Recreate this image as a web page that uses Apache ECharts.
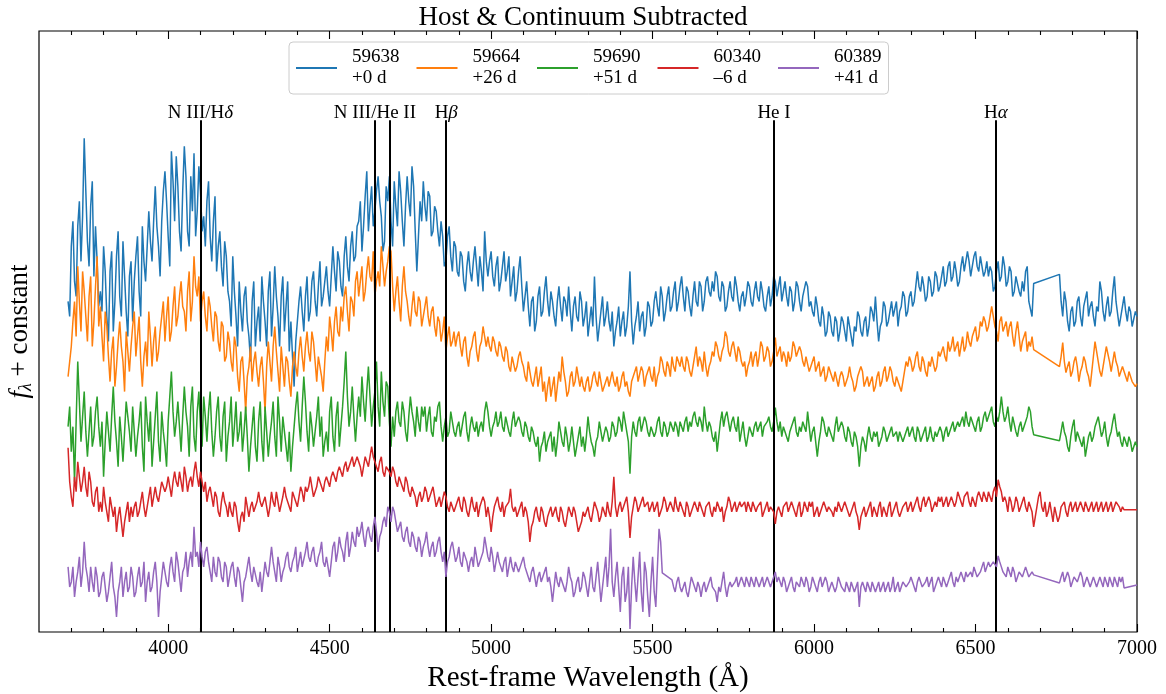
<!DOCTYPE html>
<html>
<head>
<meta charset="utf-8">
<title>Host & Continuum Subtracted</title>
<script src="https://cdn.jsdelivr.net/npm/echarts@6/dist/echarts.min.js"></script>
<style>
  html, body { margin: 0; padding: 0; background: #fff; }
  #chart { width: 1166px; height: 694px; }
</style>
</head>
<body>
<div id="chart"></div>
<script>
// Rest-frame wavelength grid (Å) shared by every spectrum
const WAVE_START = 3690;
const WAVE_STEP = 5;
const WAVE_COUNT = 663;

// Epochs (MJD) and phases shown in the legend
const epochs = ['59638', '59664', '59690', '60340', '60389'];
const phases = ['+0 d', '+26 d', '+51 d', '\u20136 d', '+41 d'];
const colors = ['#1f77b4', '#ff7f0e', '#2ca02c', '#d62728', '#9467bd'];

// Host- and continuum-subtracted flux, offset for display (null = no data).
// One row per 100 Å, starting at 3690 Å.
const flux59638 = [
  33.0, 31.5, 38.5, 41.0, 35.0, 33.5, 40.5, 43.0, 37.0, 41.5, 49.3, 44.0, 39.0, 36.5, 42.5, 45.0, 35.5, 40.5, 37.0, 32.5,
  34.0, 32.0, 38.5, 36.0, 31.5, 29.0, 36.0, 38.0, 30.0, 33.0, 37.5, 40.0, 33.5, 31.5, 39.0, 35.5, 32.0, 29.5, 35.5, 37.0,
  31.0, 35.0, 37.5, 39.5, 34.0, 31.5, 40.5, 37.0, 35.0, 38.5, 42.0, 39.0, 37.0, 41.0, 44.5, 40.5, 38.5, 35.5, 41.0, 44.0,
  46.0, 43.0, 39.5, 36.5, 48.0, 45.0, 41.0, 47.5, 44.5, 40.0, 38.0, 44.0, 48.5, 45.5, 40.0, 38.5, 45.5, 42.0, 47.8, 39.5,
  42.0, 46.5, 44.0, 40.0, 41.5, 38.5, 43.0, 45.0, 39.5, 37.0, 41.0, 43.5, 36.0, 38.5, 40.0, 36.5, 34.5, 39.0, 37.5, 34.0,
  33.0, 30.5, 37.5, 34.0, 31.5, 28.5, 35.0, 32.0, 30.0, 33.5, 34.5, 31.0, 29.5, 27.0, 33.0, 35.0, 28.5, 31.0, 32.5, 29.0,
  35.5, 33.0, 31.0, 28.5, 34.0, 36.0, 29.5, 32.5, 36.5, 33.5, 31.5, 28.5, 33.5, 35.5, 30.0, 32.5, 35.0, 28.0, 31.0, 27.5,
  24.5, 29.0, 31.0, 33.0, 34.5, 32.0, 30.0, 33.5, 35.5, 31.0, 32.0, 35.0, 36.0, 33.0, 31.5, 34.5, 37.0, 32.5, 33.5, 35.0,
  36.5, 34.0, 32.5, 35.5, 38.5, 36.0, 34.0, 38.0, 37.0, 34.5, 33.5, 37.5, 39.5, 36.5, 35.0, 38.5, 40.0, 37.0, 37.5, 40.5,
  41.0, 43.0, 38.0, 40.5, 43.5, 46.0, 40.0, 42.5, 44.5, 40.5, 42.0, 44.0, 45.5, 43.0, 41.5, 38.0, 39.0, 44.5, 43.0, 45.5,
  41.0, 38.5, 45.0, 42.5, 40.5, 46.0, 44.0, 41.0, 38.5, 42.5, 45.5, 43.0, 41.5, 46.5, 44.5, 40.0, 36.0, 39.5, 43.0, 41.0,
  45.0, 42.5, 41.0, 44.0, 43.5, 39.5, 40.0, 42.5, 42.0, 40.0, 38.5, 41.0, 39.5, 36.5, 37.0, 39.5, 40.5, 37.5, 36.0, 39.0,
  38.5, 36.0, 35.5, 38.0, 37.5, 35.0, 34.0, 36.5, 38.0, 36.0, 35.0, 37.0, 38.5, 36.5, 34.5, 37.5, 36.0, 34.0, 40.0, 37.0,
  35.5, 37.0, 38.0, 35.5, 34.5, 36.5, 37.5, 34.0, 35.0, 36.5, 38.0, 35.0, 36.0, 37.5, 33.5, 35.0, 36.5, 33.0, 34.0, 36.0,
  37.5, 34.5, 32.0, 33.5, 35.0, 32.5, 30.5, 33.0, 33.5, 30.0, 31.0, 33.5, 34.5, 31.5, 32.0, 34.0, 35.5, 33.0, 31.5, 34.0,
  33.0, 31.5, 30.5, 33.0, 34.5, 32.5, 31.0, 33.5, 33.0, 31.5, 34.5, 32.0, 30.0, 32.5, 33.5, 31.5, 31.0, 34.0, 33.0, 30.5,
  31.5, 33.0, 29.5, 31.0, 32.5, 30.5, 35.5, 31.5, 29.0, 30.5, 32.0, 33.5, 30.5, 31.5, 33.0, 31.0, 30.0, 32.0, 28.5, 30.0,
  31.0, 32.5, 29.5, 31.0, 32.0, 29.5, 30.5, 32.5, 36.0, 31.0, 28.7, 30.5, 31.5, 33.0, 30.0, 31.5, 32.0, 29.5, 30.5, 33.0,
  32.5, 30.5, 31.0, 33.0, 34.0, 32.5, 31.5, 34.5, 33.5, 31.0, 32.0, 33.5, 34.5, 32.0, 32.5, 34.0, 35.0, 32.0, 33.0, 34.5,
  35.5, 33.5, 32.0, 34.5, 34.0, 32.5, 31.5, 33.5, 35.0, 33.0, 32.5, 35.0, 34.5, 32.0, 33.0, 35.0, 35.5, 34.0, 33.5, 35.0,
  34.0, 36.0, 35.5, 33.5, 33.0, 35.0, 34.5, 32.0, 32.5, 34.0, 35.0, 33.5, 33.0, 35.5, 34.5, 33.0, 32.0, 33.5, 34.0, 32.5,
  33.5, 35.0, 34.5, 33.0, 32.5, 34.0, 35.0, 33.5, 33.0, 35.0, 34.0, 32.5, 32.0, 33.5, 34.5, 32.5, 33.5, 35.5, 35.0, 33.5,
  34.5, 35.5, 33.0, 34.0, 35.0, 33.5, 32.5, 34.5, 34.0, 32.0, 33.0, 35.0, 34.5, 33.0, 32.0, 33.5, 33.5, 35.0, 34.5, 32.5,
  33.0, 32.0, 31.5, 33.5, 32.5, 31.0, 30.5, 32.5, 31.5, 29.5, 30.0, 32.0, 31.5, 30.0, 29.5, 31.5, 31.0, 29.0, 30.0, 31.5,
  31.0, 30.0, 29.0, 31.5, 30.5, 29.5, 28.5, 30.5, 30.0, 32.0, 31.5, 30.0, 29.5, 31.0, 31.5, 29.5, 30.5, 32.5, 32.0, 31.0,
  33.5, 31.0, 29.0, 30.5, 31.0, 33.0, 32.5, 30.5, 31.0, 32.0, 33.0, 31.5, 31.5, 33.0, 30.5, 32.0, 32.5, 34.0, 33.5, 31.5,
  32.0, 33.5, 34.0, 32.5, 33.0, 34.5, 36.0, 34.5, 34.0, 35.5, 34.5, 33.0, 33.5, 35.5, 35.0, 33.5, 34.0, 36.0, 35.5, 34.0,
  34.5, 35.5, 36.5, 34.5, 35.0, 36.5, 37.0, 35.0, 35.5, 37.0, 36.0, 34.5, 35.0, 36.5, 37.5, 36.0, 36.0, 38.0, 37.0, 35.5,
  36.5, 37.5, 38.0, 36.5, 36.0, 37.5, 37.5, 35.5, 36.0, 37.0, 35.5, 36.5, 36.0, 34.0, 34.5, 36.0, 37.0, 35.0, 35.5, 37.5,
  36.5, 34.5, 35.0, 36.5, 36.0, 33.5, 34.0, 35.5, 35.5, 34.0, 33.5, 35.0, 34.0, 36.0, 36.5, 33.0, 33.0, 31.5, 34.8, null,
  null, null, null, null, null, null, null, null, null, null, null, null, null, null,
  35.7, 33.0, 31.5, 34.0, 33.0, 31.0, 30.0, 32.0, 32.5, 30.5, 31.0, 33.0, 33.5, 31.5, 30.5, 32.5, 32.5, 34.0, 31.5, 32.5,
  33.0, 31.5, 30.5, 32.5, 32.0, 35.0, 34.0, 32.0, 31.0, 32.5, 33.5, 31.5, 32.0, 34.0, 35.5, 33.0, 33.0, 30.5, 31.5, 32.5,
  33.5, 32.0, 31.0, 32.5, 32.0, 30.5, 30.5, 32.0, 31.5
];

const flux59664 = [
  25.5, 27.0, 28.5, 31.0, 33.0, 29.5, 36.5, 33.0, 30.0, 36.0, 34.0, 31.5, 29.0, 33.5, 35.5, 28.5, 31.0, 34.5, 37.5, 30.5,
  32.5, 29.5, 27.0, 32.0, 30.5, 27.5, 25.0, 28.0, 29.5, 24.5, 26.5, 29.0, 31.0, 28.5, 27.0, 24.0, 30.0, 28.0, 26.0, 28.5,
  30.5, 32.0, 27.5, 29.5, 31.5, 27.0, 24.5, 27.5, 29.0, 26.5, 32.0, 29.5, 26.5, 29.0, 30.5, 27.0, 28.0, 30.0, 31.5, 33.0,
  29.0, 31.5, 33.5, 29.0, 30.0, 32.5, 34.5, 30.5, 31.5, 33.5, 35.0, 32.5, 32.0, 30.0, 34.0, 36.0, 31.0, 33.0, 37.5, 34.5,
  33.5, 35.5, 31.0, 33.0, 34.0, 31.5, 30.0, 33.5, 32.5, 30.5, 29.0, 32.0, 31.5, 29.0, 28.0, 31.0, 30.5, 27.0, 27.5, 30.0,
  29.0, 27.0, 26.0, 29.5, 28.5, 25.5, 24.0, 27.0, 27.5, 25.0, 22.0, 25.5, 26.5, 28.5, 25.0, 27.0, 28.0, 26.0, 24.5, 26.5,
  27.5, 25.0, 22.0, 26.5, 29.0, 27.0, 25.0, 28.5, 30.5, 28.0, 26.0, 24.0, 28.5, 26.5, 24.5, 27.5, 27.0, 25.0, 23.5, 26.5,
  28.0, 26.5, 25.5, 28.0, 29.5, 27.5, 26.0, 28.5, 30.0, 28.0, 27.0, 30.0, 29.0, 27.0, 25.0, 27.5, 27.5, 25.5, 24.0, 27.0,
  29.5, 28.0, 31.5, 30.0, 28.0, 31.0, 32.5, 30.0, 29.5, 32.5, 31.0, 33.5, 34.5, 32.0, 30.0, 33.5, 33.0, 31.5, 35.0, 36.0,
  33.5, 35.0, 36.5, 33.0, 34.0, 36.0, 37.5, 35.5, 35.0, 38.0, 33.5, 35.0, 36.0, 34.5, 38.5, 36.5, 34.5, 36.0, 37.0, 38.5,
  38.0, 34.5, 32.0, 34.0, 35.5, 33.0, 31.0, 34.5, 36.5, 34.0, 33.0, 31.5, 30.5, 32.5, 34.0, 32.0, 31.5, 33.5, 33.0, 30.5,
  31.5, 32.5, 33.5, 31.5, 30.5, 32.0, 32.5, 30.5, 29.5, 31.5, 31.0, 29.0, 30.0, 31.5, 28.0, 29.5, 30.5, 28.5, 29.0, 30.0,
  28.5, 29.5, 30.0, 28.5, 27.5, 29.0, 29.5, 27.5, 26.5, 28.0, 28.5, 29.5, 30.0, 28.0, 27.0, 28.5, 29.0, 30.5, 29.5, 28.5,
  29.5, 28.5, 28.0, 29.5, 29.0, 28.0, 27.5, 29.0, 28.5, 27.5, 27.0, 28.5, 28.0, 26.5, 26.0, 27.5, 27.5, 26.0, 26.5, 27.5,
  28.0, 27.0, 26.5, 25.5, 25.0, 27.0, 26.0, 25.0, 24.5, 25.5, 26.5, 24.5, 25.5, 26.5, 24.0, 25.0, 23.0, 24.5, 25.5, 23.5,
  24.5, 25.5, 23.0, 24.5, 26.0, 25.0, 27.5, 26.0, 25.0, 23.5, 24.0, 25.5, 26.0, 24.5, 25.0, 26.5, 26.5, 24.5, 25.5, 24.5,
  24.0, 25.0, 25.5, 24.0, 24.5, 25.5, 26.0, 25.0, 24.5, 26.0, 25.0, 24.0, 24.0, 25.0, 25.5, 24.5, 24.5, 26.0, 25.0, 24.5,
  25.5, 24.0, 24.5, 25.5, 26.0, 24.5, 25.0, 24.0, 23.5, 25.0, 25.5, 26.0, 26.5, 25.0, 25.0, 26.5, 26.0, 24.5, 25.5, 26.0,
  26.5, 25.5, 25.0, 26.5, 24.5, 25.5, 26.0, 27.5, 27.0, 26.0, 25.5, 27.0, 26.5, 25.5, 27.5, 26.5, 26.0, 27.5, 27.0, 26.5,
  27.5, 26.5, 26.0, 27.5, 27.0, 26.0, 25.5, 26.5, 27.5, 28.5, 26.5, 27.5, 27.0, 26.0, 28.0, 26.5, 25.5, 26.5, 27.0, 28.0,
  27.5, 29.0, 28.5, 27.5, 27.0, 28.0, 28.5, 30.0, 29.5, 28.0, 27.5, 28.5, 29.0, 28.0, 27.0, 28.5, 28.0, 27.0, 26.5, 27.0,
  25.5, 26.5, 27.0, 28.0, 26.5, 27.5, 28.0, 26.5, 27.5, 29.0, 28.5, 27.0, 27.5, 28.5, 28.0, 26.5, 27.0, 28.0, 29.4, 27.5,
  28.0, 28.5, 27.0, 28.0, 27.5, 26.5, 28.0, 27.0, 27.5, 29.0, 28.5, 27.5, 27.5, 28.5, 28.0, 27.0, 26.5, 27.5, 27.5, 26.0,
  26.5, 27.0, 27.5, 26.0, 26.5, 27.0, 25.5, 26.0, 26.5, 25.0, 25.5, 26.5, 26.5, 25.5, 25.0, 26.0, 26.0, 24.5, 25.5, 26.0,
  25.5, 24.5, 24.5, 25.5, 26.5, 25.5, 25.0, 24.0, 24.5, 25.5, 25.5, 26.5, 26.0, 24.5, 25.0, 25.5, 24.5, 25.0, 25.5, 24.0,
  24.5, 25.5, 26.0, 24.5, 25.0, 26.0, 26.5, 25.0, 25.5, 26.5, 26.0, 25.0, 24.5, 25.5, 25.5, 24.5, 24.0, 25.0, 26.0, 27.0,
  26.5, 27.5, 27.0, 26.0, 26.5, 27.5, 28.0, 26.5, 26.0, 27.5, 27.0, 26.0, 25.5, 27.0, 26.5, 27.5, 27.5, 26.0, 26.5, 28.0,
  27.5, 28.0, 28.5, 27.5, 27.0, 29.0, 28.0, 28.5, 29.5, 28.0, 28.5, 29.0, 27.5, 28.5, 29.5, 28.0, 28.5, 30.0, 29.0, 28.5,
  29.5, 30.0, 30.5, 29.0, 29.5, 31.0, 30.5, 31.5, 31.0, 30.0, 30.5, 31.5, 32.5, 31.5, 30.5, 30.0, 29.0, 31.0, 31.5, 30.0,
  30.5, 31.0, 29.5, 30.5, 31.0, 29.5, 28.5, 30.0, 31.0, 29.5, 28.0, 29.0, 29.5, 30.0, 28.0, 29.0, 28.5, 29.5, 28.2, null,
  null, null, null, null, null, null, null, null, null, null, null, null, null, null,
  26.5, 27.5, 28.9, 27.0, 25.9, 26.5, 27.0, 25.5, 26.0, 27.0, 27.5, 26.5, 25.0, 26.0, 26.5, 27.5, 27.0, 26.0, 25.5, 24.5,
  26.0, 27.5, 29.0, 28.0, 27.0, 26.0, 25.5, 26.5, 27.5, 28.5, 28.5, 27.0, 26.0, 27.0, 28.0, 27.0, 26.5, 25.5, 25.5, 26.5,
  26.5, 25.5, 25.0, 26.0, 26.0, 25.0, 25.0, 24.5, 24.8
];

const flux59690 = [
  20.5, 22.5, 18.0, 20.5, 15.0, 21.0, 27.0, 23.0, 19.0, 21.5, 24.0, 20.0, 17.5, 20.0, 22.5, 18.5, 19.5, 22.0, 23.5, 20.5,
  18.5, 21.0, 15.5, 19.0, 22.0, 20.0, 18.0, 21.5, 24.5, 21.0, 19.0, 16.5, 21.5, 19.5, 17.0, 20.0, 23.0, 21.5, 20.0, 18.0,
  22.5, 20.0, 17.5, 19.5, 21.0, 23.0, 18.5, 16.0, 23.5, 21.0, 19.0, 22.0, 16.5, 19.0, 21.5, 24.0, 19.0, 17.0, 22.0, 20.0,
  18.5, 16.5, 21.0, 23.5, 26.0, 22.0, 19.5, 21.0, 23.0, 20.5, 18.0, 21.5, 24.5, 22.0, 20.5, 17.5, 22.5, 24.5, 19.5, 18.0,
  22.0, 24.0, 20.5, 18.5, 23.5, 21.5, 19.0, 22.0, 24.0, 20.0, 17.5, 19.5, 22.0, 23.5, 19.5, 18.0, 21.5, 23.0, 17.0, 19.5,
  21.0, 23.5, 18.5, 20.5, 23.0, 19.0, 20.0, 22.0, 18.0, 20.0, 22.5, 19.5, 16.0, 18.5, 20.5, 22.5, 18.5, 17.0, 21.0, 23.0,
  19.0, 17.0, 22.5, 20.0, 17.5, 19.5, 21.0, 23.0, 19.5, 17.5, 23.5, 21.0, 18.0, 21.5, 20.0, 18.5, 17.0, 20.0, 16.0, 18.5,
  20.5, 22.5, 24.0, 21.0, 19.0, 22.5, 25.5, 23.0, 20.0, 18.0, 22.0, 20.5, 18.5, 20.0, 21.5, 23.5, 19.5, 21.5, 17.5, 19.0,
  20.0, 18.0, 22.0, 23.5, 19.5, 18.0, 21.5, 23.0, 18.5, 20.5, 22.5, 25.0, 28.0, 23.5, 20.5, 22.0, 24.5, 21.5, 19.0, 21.5,
  23.5, 21.5, 25.5, 23.0, 21.0, 24.0, 26.5, 23.5, 20.5, 22.5, 24.0, 27.0, 22.5, 20.5, 26.0, 23.0, 21.5, 25.0, 24.5, 21.0,
  18.5, 21.5, 19.5, 22.0, 23.0, 21.0, 20.5, 23.0, 22.0, 20.0, 19.0, 21.5, 23.5, 22.0, 21.0, 19.5, 22.5, 21.0, 20.0, 22.5,
  21.5, 22.5, 20.0, 21.5, 22.5, 20.0, 19.5, 21.5, 21.0, 22.5, 23.0, 20.5, 19.0, 20.5, 21.5, 19.5, 20.0, 22.0, 21.0, 20.0,
  19.5, 20.5, 21.0, 19.5, 20.5, 21.5, 22.0, 20.0, 19.0, 20.5, 21.5, 20.5, 20.0, 21.0, 19.5, 20.5, 21.0, 20.0, 22.0, 23.0,
  22.0, 20.5, 19.5, 20.5, 21.0, 22.0, 20.5, 21.0, 22.0, 20.5, 20.0, 21.5, 21.5, 20.0, 19.5, 21.0, 22.0, 20.5, 20.5, 21.5,
  21.0, 20.0, 19.5, 21.0, 20.5, 19.5, 19.0, 20.5, 20.0, 19.0, 18.5, 19.5, 17.0, 18.5, 19.0, 20.0, 18.0, 19.0, 19.5, 20.0,
  18.0, 19.5, 17.5, 19.0, 21.0, 20.0, 19.0, 18.5, 20.5, 19.5, 18.0, 19.0, 20.5, 19.0, 17.5, 18.5, 19.5, 20.5, 18.5, 19.5,
  18.0, 19.5, 21.5, 20.0, 19.0, 18.5, 17.5, 19.0, 19.5, 21.0, 20.0, 19.0, 19.0, 20.5, 20.0, 19.0, 19.5, 21.0, 20.5, 19.5,
  20.0, 21.5, 21.0, 20.0, 22.0, 21.0, 20.0, 19.0, 15.8, 19.5, 21.0, 20.0, 19.5, 21.0, 21.5, 20.0, 20.0, 21.5, 21.0, 20.0,
  19.5, 20.5, 20.5, 19.5, 20.0, 21.0, 21.5, 20.0, 19.5, 21.0, 20.5, 19.5, 20.0, 21.0, 20.5, 20.0, 21.0, 20.5, 19.5, 21.0,
  20.5, 20.0, 21.0, 21.5, 20.0, 21.0, 20.5, 21.5, 22.0, 21.0, 20.5, 21.5, 21.0, 20.0, 22.5, 21.0, 20.0, 21.0, 20.5, 19.5,
  19.0, 20.0, 18.0, 19.5, 21.0, 22.0, 20.5, 21.5, 22.0, 21.0, 20.0, 21.0, 21.5, 20.5, 20.0, 21.5, 19.0, 20.0, 21.0, 19.5,
  18.5, 19.5, 20.5, 20.0, 19.5, 20.5, 21.0, 20.0, 20.0, 21.0, 19.5, 20.5, 20.5, 21.0, 21.5, 20.5, 20.0, 21.0, 22.4, 21.0,
  20.0, 21.0, 19.5, 20.5, 20.0, 19.5, 19.0, 20.0, 20.5, 21.0, 21.5, 20.0, 19.5, 20.5, 20.0, 21.0, 21.0, 20.0, 22.0, 20.5,
  19.0, 20.0, 20.5, 19.0, 17.5, 19.0, 20.0, 21.5, 21.0, 20.0, 19.5, 20.5, 20.5, 19.5, 19.0, 20.5, 21.5, 20.0, 20.0, 21.0,
  20.5, 19.5, 19.0, 20.5, 20.0, 19.0, 18.5, 20.0, 19.5, 18.5, 16.5, 18.5, 19.5, 19.0, 18.0, 19.5, 20.5, 19.5, 19.0, 20.0,
  19.5, 20.0, 18.5, 19.0, 19.5, 20.5, 20.0, 19.0, 19.0, 20.0, 20.5, 19.5, 19.5, 20.0, 19.0, 20.0, 20.0, 19.0, 19.5, 20.0,
  20.5, 19.5, 20.0, 20.5, 19.5, 19.0, 20.5, 20.0, 19.0, 19.5, 20.0, 20.5, 19.0, 19.5, 20.5, 19.5, 19.0, 20.0, 19.5, 20.0,
  20.5, 20.0, 19.0, 20.0, 20.5, 19.5, 19.5, 20.5, 21.0, 20.0, 20.0, 21.0, 20.5, 21.0, 21.5, 20.5, 22.0, 21.0, 20.5, 21.5,
  21.0, 20.5, 20.0, 21.0, 21.5, 20.0, 20.5, 21.5, 22.0, 21.0, 21.0, 22.0, 22.5, 21.0, 20.5, 21.5, 21.0, 22.0, 23.5, 22.0,
  21.0, 21.5, 22.5, 21.0, 20.0, 21.5, 21.5, 20.0, 19.5, 20.5, 21.0, 20.0, 20.0, 21.0, 21.5, 22.5, 22.0, 20.5, 19.7, null,
  null, null, null, null, null, null, null, null, null, null, null, null, null, null,
  19.1, 20.0, 21.0, 20.0, 19.5, 18.5, 18.0, 19.5, 20.5, 21.2, 19.0, 20.0, 20.0, 19.0, 18.5, 19.5, 17.5, 18.5, 19.5, 20.0,
  19.0, 19.5, 20.5, 21.0, 21.5, 20.5, 19.5, 20.0, 21.0, 19.5, 18.5, 19.5, 20.0, 21.0, 21.8, 20.5, 19.5, 20.0, 19.0, 18.5,
  19.5, 19.0, 18.5, 19.5, 19.0, 18.0, 18.0, 19.0, 18.5
];

const flux60340 = [
  18.4, 15.0, 13.5, 12.5, 15.5, 14.0, 17.0, 15.5, 14.0, 15.0, 16.5, 14.5, 13.5, 16.0, 15.0, 13.0, 12.5, 14.0, 14.5, 12.0,
  13.0, 12.0, 14.5, 13.0, 12.0, 11.0, 13.5, 12.5, 11.5, 12.5, 10.0, 11.5, 12.5, 11.0, 9.5, 11.0, 12.0, 13.0, 11.0, 12.5,
  11.5, 12.5, 13.0, 11.5, 12.0, 13.0, 14.0, 12.5, 11.5, 12.5, 13.5, 14.5, 12.5, 13.5, 14.5, 13.5, 13.0, 14.0, 15.0, 14.5,
  14.0, 14.5, 15.5, 14.5, 13.5, 15.0, 16.0, 15.0, 14.5, 16.0, 15.0, 14.0, 16.5, 15.5, 14.0, 15.0, 15.5, 14.5, 16.0, 17.0,
  15.5, 14.5, 16.0, 15.0, 14.0, 15.0, 13.0, 14.0, 14.5, 13.5, 12.5, 14.0, 13.5, 12.0, 11.5, 13.0, 14.0, 13.0, 12.5, 11.5,
  13.0, 12.0, 11.5, 13.0, 12.5, 11.0, 10.0, 11.5, 12.0, 11.0, 13.5, 12.5, 11.5, 12.5, 13.0, 12.0, 12.0, 13.0, 14.0, 13.0,
  12.5, 13.0, 13.5, 12.5, 11.5, 12.5, 14.0, 13.0, 12.5, 14.0, 13.0, 12.0, 12.0, 13.5, 14.5, 13.5, 13.0, 12.5, 12.0, 14.0,
  13.5, 13.0, 12.5, 13.5, 14.5, 14.0, 13.0, 14.5, 14.0, 14.5, 15.5, 14.5, 13.5, 14.0, 14.5, 15.5, 15.0, 14.5, 14.0, 15.0,
  15.5, 15.0, 14.5, 15.5, 16.0, 15.5, 15.0, 16.0, 16.5, 16.0, 15.5, 16.5, 17.0, 16.0, 16.0, 17.0, 17.5, 16.5, 16.5, 17.5,
  17.0, 16.5, 15.5, 16.5, 17.5, 17.0, 16.5, 17.5, 18.5, 17.5, 17.0, 16.5, 16.0, 17.0, 17.5, 16.0, 15.5, 16.5, 16.5, 16.0,
  15.5, 16.5, 16.0, 15.0, 14.5, 15.5, 15.5, 14.5, 14.0, 15.5, 15.0, 14.0, 13.5, 14.5, 14.5, 13.5, 12.5, 13.5, 14.0, 13.0,
  13.5, 14.5, 14.0, 13.0, 13.0, 14.0, 14.5, 13.5, 12.5, 13.0, 13.5, 12.5, 12.5, 14.0, 13.5, 12.5, 12.0, 13.0, 13.0, 12.0,
  12.5, 13.0, 13.5, 12.5, 12.0, 13.5, 13.0, 12.0, 11.5, 12.5, 13.5, 12.5, 12.0, 13.0, 11.5, 12.5, 12.5, 13.5, 13.0, 11.5,
  12.5, 11.5, 10.0, 11.5, 12.5, 13.0, 13.5, 12.5, 12.0, 13.0, 11.5, 12.5, 12.5, 13.0, 14.3, 12.5, 12.0, 12.5, 11.5, 12.0,
  12.5, 13.0, 11.5, 12.5, 12.0, 11.0, 9.0, 10.5, 11.0, 12.0, 12.5, 11.5, 11.0, 12.5, 12.0, 11.0, 10.5, 11.5, 12.0, 12.5,
  11.5, 12.0, 12.5, 11.5, 11.0, 12.5, 12.0, 11.0, 10.5, 11.5, 12.5, 12.0, 11.5, 12.5, 12.0, 11.0, 10.0, 10.5, 11.0, 12.0,
  11.5, 12.0, 12.5, 11.5, 11.0, 12.0, 13.0, 12.5, 12.0, 11.0, 11.5, 12.5, 12.5, 11.5, 13.0, 12.0, 11.5, 13.0, 15.5, 12.5,
  11.5, 12.5, 13.0, 12.0, 12.0, 13.0, 13.5, 12.0, 9.4, 11.5, 12.5, 13.5, 13.0, 12.0, 12.0, 13.0, 13.5, 12.5, 12.5, 13.0,
  12.0, 12.5, 13.0, 12.0, 12.5, 13.0, 11.5, 12.0, 12.5, 13.5, 13.0, 12.0, 12.0, 13.0, 12.5, 12.0, 13.5, 12.5, 12.0, 13.0,
  12.5, 12.0, 11.5, 13.0, 12.5, 11.5, 12.0, 12.5, 13.0, 12.5, 12.0, 13.0, 12.5, 12.0, 11.5, 12.5, 12.5, 13.0, 12.0, 11.5,
  12.5, 12.0, 13.0, 12.5, 12.0, 12.5, 11.0, 12.0, 12.5, 13.5, 13.0, 12.0, 12.5, 13.0, 12.0, 12.5, 13.0, 12.5, 12.5, 13.0,
  12.0, 13.0, 12.5, 12.0, 13.0, 12.5, 12.0, 12.5, 12.5, 13.0, 11.5, 12.0, 12.5, 13.0, 12.0, 12.5, 12.5, 12.0, 10.8, 12.0,
  12.5, 12.0, 11.5, 12.5, 12.5, 13.0, 12.0, 12.5, 13.0, 12.5, 12.0, 11.5, 12.5, 13.0, 11.5, 12.0, 13.0, 12.5, 12.0, 13.0,
  12.5, 13.0, 11.5, 12.0, 12.5, 11.5, 12.0, 12.5, 13.0, 12.5, 12.0, 12.5, 12.5, 12.0, 11.5, 12.5, 12.0, 13.0, 12.5, 12.0,
  12.0, 13.0, 12.5, 12.0, 11.5, 12.0, 12.5, 13.0, 12.0, 11.5, 10.2, 11.5, 12.0, 12.5, 11.5, 12.0, 12.5, 13.0, 11.5, 12.5,
  12.0, 11.5, 12.5, 13.0, 11.5, 12.5, 12.0, 11.5, 12.5, 13.0, 11.5, 12.0, 12.5, 13.0, 12.0, 11.5, 11.5, 12.5, 12.5, 13.0,
  12.0, 12.5, 13.0, 12.0, 12.5, 13.0, 13.5, 12.5, 12.0, 13.0, 13.5, 12.5, 12.5, 13.5, 13.0, 12.0, 12.0, 13.0, 12.5, 13.5,
  13.0, 13.5, 12.5, 13.0, 13.5, 12.5, 12.5, 13.5, 13.5, 12.5, 13.0, 14.0, 14.0, 13.0, 12.5, 13.5, 13.5, 14.0, 13.0, 12.5,
  13.5, 13.0, 12.5, 13.5, 14.0, 13.5, 13.0, 14.0, 13.5, 13.0, 14.0, 13.5, 13.0, 14.0, 14.5, 13.5, 15.2, 14.5, 14.0, 13.0,
  13.5, 13.0, 12.0, 13.5, 13.0, 12.0, 12.5, 13.5, 13.0, 12.0, 12.5, 13.0, 13.5, 12.5, 12.0, 13.0, 13.0, 12.0, 10.5, 11.5,
  12.5, 13.5, 14.0, 12.5, 12.0, 13.0, 11.5, 12.0, 13.0, 12.0, 11.0, 12.5, 12.5, 11.0, 11.5, 12.5, 12.5, 13.0, 12.0, 11.5,
  12.5, 13.0, 12.0, 12.5, 13.0, 12.0, 12.0, 13.0, 12.5, 12.0, 13.0, 12.5, 12.0, 12.5, 13.0, 12.0, 12.5, 13.0, 12.0, 12.5,
  13.0, 12.0, 12.5, 13.0, 12.0, 12.5, 13.0, 12.0, 12.5, 13.0, 13.0, 12.5, 12.0, 12.5, 12.2, null, null, null, null, null,
  null, null, 12.2
];

const flux60389 = [
  6.5, 4.5, 5.0, 6.5, 3.5, 5.0, 6.0, 7.5, 4.5, 6.0, 9.0, 6.5, 5.5, 4.0, 6.5, 5.0, 4.0, 6.5, 5.5, 3.5,
  4.0, 5.5, 6.0, 4.5, 3.0, 4.0, 5.5, 7.0, 4.5, 3.5, 1.5, 4.0, 5.0, 6.5, 3.5, 5.0, 6.0, 4.0, 4.5, 6.5,
  5.5, 3.5, 4.0, 5.5, 6.5, 4.5, 5.0, 7.0, 3.0, 5.0, 6.0, 4.0, 4.5, 6.0, 7.0, 5.0, 1.5, 4.0, 5.5, 7.0,
  6.0, 5.0, 4.5, 6.5, 7.5, 6.0, 5.0, 8.0, 7.0, 5.5, 4.0, 6.0, 6.5, 8.0, 5.5, 7.0, 8.0, 6.5, 10.5, 7.5,
  8.0, 6.5, 9.0, 7.5, 6.5, 8.0, 8.5, 7.0, 6.0, 5.0, 7.5, 6.0, 5.5, 7.5, 7.0, 5.5, 5.0, 7.0, 6.5, 4.5,
  5.5, 6.5, 7.0, 5.5, 4.5, 6.5, 6.0, 4.5, 3.0, 5.0, 5.5, 6.5, 7.5, 6.0, 5.0, 6.5, 6.5, 5.0, 4.5, 6.0,
  4.0, 5.5, 7.0, 6.0, 5.5, 7.0, 8.5, 7.0, 6.0, 5.0, 7.5, 6.5, 5.0, 6.0, 6.5, 7.5, 8.0, 6.5, 6.0, 7.0,
  7.5, 8.5, 6.0, 7.0, 8.0, 6.5, 6.5, 8.0, 9.0, 7.5, 7.0, 8.0, 8.5, 7.0, 6.5, 7.5, 8.0, 9.0, 7.0, 6.5,
  7.5, 6.5, 5.5, 7.0, 8.5, 9.0, 7.0, 8.0, 9.5, 8.5, 8.0, 7.0, 9.0, 10.0, 7.5, 8.5, 10.0, 9.0, 8.5, 10.5,
  9.5, 10.0, 11.0, 9.5, 8.5, 10.0, 10.5, 9.5, 9.0, 10.5, 11.5, 10.0, 8.0, 9.5, 10.0, 11.0, 11.5, 10.5, 12.5, 12.0,
  11.0, 12.5, 12.0, 11.0, 10.0, 10.5, 11.0, 9.5, 9.0, 10.0, 10.5, 9.0, 8.5, 10.0, 9.5, 8.5, 8.0, 9.5, 9.0, 7.5,
  8.5, 9.0, 10.0, 8.5, 7.5, 8.5, 9.0, 7.5, 8.0, 9.0, 9.5, 8.0, 7.0, 8.0, 5.5, 7.0, 7.5, 8.5, 9.0, 8.0,
  7.0, 7.5, 8.5, 7.0, 6.5, 8.0, 8.0, 7.0, 6.0, 7.0, 7.5, 6.5, 8.5, 7.5, 6.5, 7.0, 7.5, 8.0, 9.5, 8.5,
  7.5, 7.0, 8.5, 7.5, 6.0, 7.0, 8.0, 7.0, 6.5, 6.0, 7.0, 7.5, 5.5, 6.5, 7.5, 6.5, 6.0, 7.0, 7.0, 6.0,
  6.5, 7.0, 7.5, 6.5, 6.0, 5.5, 5.0, 6.0, 6.5, 5.5, 4.5, 5.5, 6.0, 5.0, 5.0, 6.0, 6.5, 5.0, 5.5, 4.5,
  3.0, 4.5, 6.0, 5.0, 4.5, 5.5, 5.5, 4.5, 4.0, 5.0, 6.5, 5.5, 5.0, 3.5, 4.0, 5.0, 5.5, 4.0, 4.5, 6.0,
  5.5, 4.5, 3.5, 5.0, 6.5, 4.5, 4.0, 5.5, 7.0, 5.0, 3.0, 4.5, 6.0, 7.5, 4.5, 6.5, 10.3, 5.0, 3.5, 5.5,
  7.0, 4.5, 2.0, 5.5, 6.5, 3.0, 4.0, 6.5, 0.3, 4.5, 7.5, 5.0, 3.0, 5.5, 8.0, 4.0, 2.0, 7.0, 6.0, 3.5,
  1.5, 5.0, 7.5, 4.0, 2.5, 6.5, 10.3, 9.0, 5.9, null, null, null, null, null, 5.2, 4.5, 4.0, 5.0, 5.5, 4.5,
  4.0, 4.5, 5.0, 4.0, 3.5, 4.5, 5.5, 5.0, 4.5, 4.0, 5.0, 4.5, 3.5, 4.5, 5.0, 4.0, 4.5, 5.0, 5.5, 4.5,
  4.5, 4.0, 3.0, 4.5, 4.0, 5.0, 6.0, 4.5, 3.5, 4.5, 5.0, 4.5, 4.5, 5.0, 5.5, 4.5, 4.5, 5.5, 5.0, 4.5,
  5.5, 5.0, 4.5, 5.5, 5.0, 4.5, 5.5, 5.0, 4.5, 5.0, 5.5, 4.5, 5.0, 5.5, 5.5, 4.5, 5.0, 5.5, 6.0, 5.0,
  5.5, 5.0, 4.5, 5.5, 5.0, 4.0, 4.5, 5.0, 5.5, 4.5, 4.0, 5.0, 5.0, 4.5, 5.5, 5.0, 4.5, 5.5, 5.0, 4.0,
  4.5, 5.5, 5.0, 4.5, 4.0, 5.0, 5.5, 4.5, 4.5, 5.5, 5.0, 4.0, 4.0, 5.0, 5.0, 4.0, 4.5, 5.5, 5.0, 4.5,
  4.5, 4.0, 5.0, 4.5, 4.0, 5.0, 5.0, 4.0, 4.5, 5.0, 2.5, 4.5, 5.0, 4.5, 4.0, 5.0, 4.5, 4.0, 5.0, 4.5,
  4.0, 4.5, 5.0, 4.0, 4.5, 5.0, 4.0, 4.5, 5.0, 4.0, 4.5, 5.5, 4.0, 4.5, 5.0, 4.0, 4.5, 5.0, 5.0, 4.5,
  4.5, 5.0, 5.5, 5.0, 4.5, 4.0, 5.0, 5.5, 5.5, 4.5, 4.5, 5.0, 5.5, 4.5, 5.0, 5.5, 4.0, 4.5, 5.0, 5.5,
  5.0, 4.5, 5.5, 5.0, 4.5, 5.0, 5.5, 6.0, 5.0, 4.5, 5.5, 5.0, 5.0, 6.0, 5.5, 5.0, 6.0, 5.5, 5.5, 6.0,
  5.5, 6.5, 6.0, 5.5, 5.5, 6.0, 6.5, 7.0, 6.0, 6.5, 7.0, 6.5, 6.5, 7.0, 7.0, 6.5, 7.6, 7.0, 6.5, 6.0,
  6.0, 5.5, 6.5, 6.0, 5.5, 6.5, 6.0, 5.0, 5.5, 6.0, 6.0, 5.5, 5.5, 6.5, 6.0, 5.5, 5.5, 6.0, 5.7, null,
  null, null, null, null, null, null, null, null, null, null, null, null, null, null,
  4.9, 5.5, 6.0, 5.0, 5.0, 6.0, 5.5, 4.5, 4.5, 5.5, 5.5, 5.0, 5.0, 6.0, 5.5, 4.5, 4.5, 5.5, 5.0, 4.5,
  5.0, 5.5, 5.5, 4.5, 4.5, 5.5, 5.0, 4.5, 5.5, 5.0, 4.5, 5.5, 5.0, 4.5, 5.5, 5.0, 4.5, 5.5, 5.0, 5.5,
  4.4, null, null, null, null, null, null, null, 4.7
];

// Identified lines: rest wavelength (Å) and label (rich-text markup)
const lineWavelengths = [4100, 4640, 4686, 4861, 5876, 6563];
const lineLabels = ['N III/H{g|\u03b4}', 'N III/He II', '', 'H{g|\u03b2}', 'He I', 'H{g|\u03b1}'];

// Axis ticks (Å)
const majorTicks = [4000, 4500, 5000, 5500, 6000, 6500, 7000];
const minorTicks = [3700, 3800, 3900, 4100, 4200, 4300, 4400, 4600, 4700, 4800, 4900,
  5100, 5200, 5300, 5400, 5600, 5700, 5800, 5900, 6100, 6200, 6300, 6400, 6600, 6700, 6800, 6900];

const fluxes = [flux59638, flux59664, flux59690, flux60340, flux60389];

const SERIF = "'Liberation Serif', 'DejaVu Serif', serif";
const X_MIN = 3600, X_MAX = 7000;
const Y_MIN = 0, Y_MAX = 60;
const LINE_TOP = 51.1;

const wavelength = [];
for (let i = 0; i < WAVE_COUNT; i++) wavelength.push(WAVE_START + WAVE_STEP * i);

function tickAxis(position, ticks, len, withLabels) {
  return {
    type: 'value', min: X_MIN, max: X_MAX, position: position,
    axisLine: { show: false },
    splitLine: { show: false },
    axisTick: { show: true, inside: true, length: len, customValues: ticks,
                lineStyle: { color: '#000', width: 1.1 } },
    axisLabel: withLabels
      ? { show: true, customValues: ticks, color: '#000', fontSize: 20, fontFamily: SERIF, margin: 7,
          formatter: v => String(v) }
      : { show: false }
  };
}

const xMain = tickAxis('bottom', majorTicks, 8, true);
xMain.name = 'Rest-frame Wavelength (\u00c5)';
xMain.nameLocation = 'middle';
xMain.nameGap = 32;
xMain.nameTextStyle = { color: '#000', fontSize: 29, fontFamily: SERIF };

const series = epochs.map((ep, k) => ({
  name: ep,
  type: 'line',
  xAxisIndex: 0,
  yAxisIndex: 0,
  showSymbol: false,
  symbol: 'none',
  connectNulls: true,
  lineStyle: { color: colors[k], width: 1.5 },
  itemStyle: { color: colors[k] },
  data: wavelength.map((w, i) => [w, fluxes[k][i]]),
  z: 2 + k
}));

series.push({
  name: 'lines',
  type: 'line',
  data: [],
  z: 20,
  silent: true,
  markLine: {
    silent: true,
    symbol: ['none', 'none'],
    animation: false,
    lineStyle: { color: '#000', width: 2, type: 'solid' },
    label: {
      show: true,
      position: 'start',
      distance: -2,
      color: '#000',
      fontSize: 19,
      fontFamily: SERIF,
      rich: { g: { fontStyle: 'italic', fontSize: 19, fontFamily: SERIF, color: '#000' } }
    },
    data: lineWavelengths.map((w, i) => [
      { coord: [w, LINE_TOP], label: { formatter: lineLabels[i] } },
      { coord: [w, Y_MIN] }
    ])
  }
});

const chart = echarts.init(document.getElementById('chart'), null, { renderer: 'canvas' });
chart.setOption({
  animation: false,
  backgroundColor: '#fff',
  title: {
    text: 'Host & Continuum Subtracted',
    left: 'center',
    top: 4,
    padding: [0, 0, 0, 12],
    textStyle: { color: '#000', fontSize: 27, fontWeight: 'normal', fontFamily: SERIF }
  },
  grid: {
    left: 39, right: 29, top: 31, bottom: 62,
    containLabel: false,
    outerBoundsMode: 'none',
    show: true, borderColor: '#000', borderWidth: 1.2, backgroundColor: 'transparent'
  },
  legend: {
    data: epochs,
    left: 289,
    top: 42,
    orient: 'horizontal',
    icon: 'rect',
    itemWidth: 41,
    itemHeight: 2,
    itemGap: 17,
    padding: [5, 7, 5, 7],
    backgroundColor: 'rgba(255,255,255,0.85)',
    borderColor: '#cccccc',
    borderWidth: 1,
    borderRadius: 4,
    formatter: name => name + '\n' + phases[epochs.indexOf(name)],
    textStyle: { color: '#000', fontSize: 19, lineHeight: 21, fontFamily: SERIF, padding: [0, 0, 0, 10] }
  },
  xAxis: [
    xMain,
    tickAxis('bottom', minorTicks, 4, false),
    tickAxis('top', majorTicks, 8, false),
    tickAxis('top', minorTicks, 4, false)
  ],
  yAxis: {
    type: 'value', min: Y_MIN, max: Y_MAX,
    axisLine: { show: false },
    axisTick: { show: false },
    axisLabel: { show: false },
    splitLine: { show: false },
    name: '{i|f}{s|\u03bb} + constant',
    nameLocation: 'middle',
    nameRotate: 90,
    nameGap: 4,
    nameTextStyle: {
      color: '#000', fontSize: 27, fontFamily: SERIF,
      rich: {
        i: { fontStyle: 'italic', fontSize: 27, fontFamily: SERIF, color: '#000' },
        s: { fontStyle: 'italic', fontSize: 18, fontFamily: SERIF, color: '#000', verticalAlign: 'bottom', padding: [12, 0, 0, 0] }
      }
    }
  },
  series: series
});
</script>
</body>
</html>
